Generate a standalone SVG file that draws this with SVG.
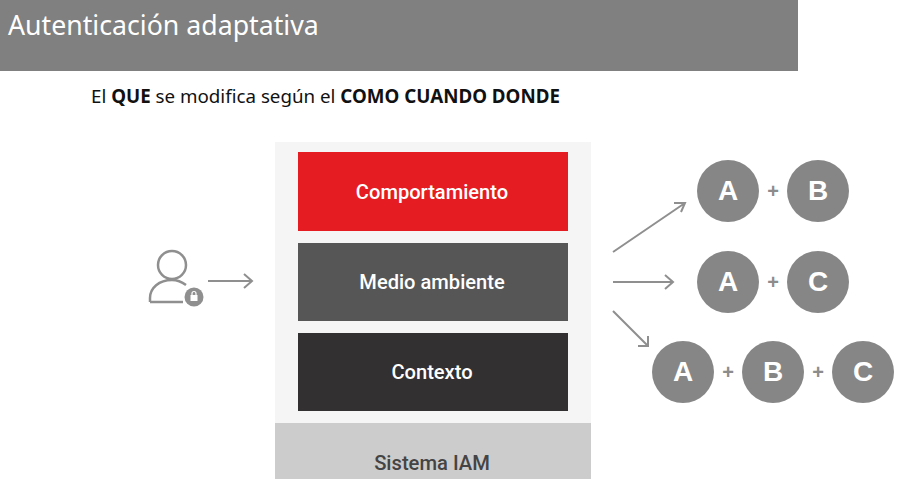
<svg xmlns="http://www.w3.org/2000/svg" width="909" height="485" viewBox="0 0 909 485">
<defs><style>
.r{font-family:Roboto,"Liberation Sans",sans-serif;font-weight:500;font-size:20.1px;fill:#fff;text-anchor:middle}
.c{fill:#868686}
.l{font-family:"Liberation Sans",sans-serif;font-weight:700;font-size:28px;fill:#fff;text-anchor:middle}
.p{font-family:"Liberation Sans",sans-serif;font-weight:700;font-size:20px;fill:#8c8c8c;text-anchor:middle}
.a{fill:none;stroke:#8f8f8f;stroke-width:2}
</style></defs>
<rect width="909" height="485" fill="#fff"/>
<g id="header"><rect width="798" height="71" fill="#808080"/><text x="8" y="35" font-family="'Noto Sans',sans-serif" font-size="26.7" fill="#fff">Autenticación adaptativa</text></g>
<text x="91" y="103" font-family="'Noto Sans',sans-serif" font-size="18.76" fill="#111">El <tspan font-weight="700">QUE</tspan> se modifica según el <tspan font-weight="700">COMO CUANDO DONDE</tspan></text>
<g id="iam"><rect x="275" y="142" width="316" height="281" fill="#f5f5f5"/><rect x="275" y="423" width="316" height="56" fill="#cccccc"/><text x="432" y="470" text-anchor="middle" font-family="Roboto,sans-serif" font-weight="500" font-size="20.2" fill="#444">Sistema IAM</text></g>
<g id="comportamiento"><rect x="298" y="152" width="270" height="79" fill="#e61c23"/><text class="r" x="432" y="199">Comportamiento</text></g>
<g id="medio"><rect x="298" y="243" width="270" height="78" fill="#565656"/><text class="r" x="432" y="289">Medio ambiente</text></g>
<g id="contexto"><rect x="298" y="333" width="270" height="78" fill="#323031"/><text class="r" x="432" y="379">Contexto</text></g>
<g id="user" fill="none" stroke="#8f8f8f" stroke-width="2.5"><circle cx="172" cy="265" r="14"/><path d="M150 302v-4c0-10 9-18 22-18c5 0 10 2 14 5M150 302h33"/><circle cx="194" cy="297" r="9.500" fill="#8f8f8f" stroke="none"/><rect x="190.500" y="295" width="7" height="6" fill="#fff" stroke="none"/><path d="M192 295v-1.500a2 2 0 0 1 4 0v1.500" stroke="#fff" stroke-width="1.200"/></g>
<g id="connectors"><path class="a" d="M208 281h44M244 274l8 7l-8 7"/><path class="a" d="M613 252L685 203M674 203L685 203L681 212"/><path class="a" d="M613 282H673M665 275l8 7l-8 7"/><path class="a" d="M613 311L648 346M648 336V346H638"/></g>
<g id="ab"><circle class="c" cx="728" cy="191" r="31"/><text class="l" x="728" y="200">A</text><text class="p" x="773" y="198">+</text><circle class="c" cx="818" cy="191" r="31"/><text class="l" x="818" y="200">B</text></g>
<g id="ac"><circle class="c" cx="728" cy="282" r="31"/><text class="l" x="728" y="291">A</text><text class="p" x="773" y="289">+</text><circle class="c" cx="818" cy="282" r="31"/><text class="l" x="818" y="291">C</text></g>
<g id="abc"><circle class="c" cx="683" cy="372" r="31"/><text class="l" x="683" y="381">A</text><text class="p" x="728" y="379">+</text><circle class="c" cx="773" cy="372" r="31"/><text class="l" x="773" y="381">B</text><text class="p" x="818" y="379">+</text><circle class="c" cx="863" cy="372" r="31"/><text class="l" x="863" y="381">C</text></g>
</svg>
